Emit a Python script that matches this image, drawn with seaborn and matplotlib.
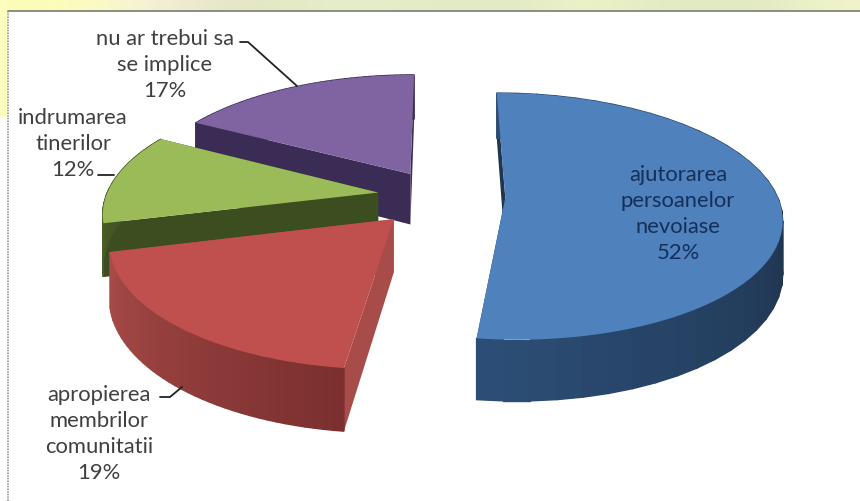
"""
Exploded 3D pie about how young people should get involved, rebuilt on top of ax.pie.
"""
import numpy as np
import matplotlib
matplotlib.use("Agg")
import matplotlib.pyplot as plt
import seaborn as sns
from matplotlib.patches import Polygon, Rectangle
from matplotlib.transforms import Transform

labels = ["ajutorarea\npersoanelor\nnevoiase\n52%", "apropierea\nmembrilor\ncomunitatii\n19%",
          "indrumarea\ntinerilor\n12%", "nu ar trebui sa\nse implice\n17%"]
values = [52, 19, 12, 17]
explode = [0.24, 0.25, 0.23, 0.22]
top_colors = ["#4f81bd", "#c0504d", "#9bbb59", "#8064a2"]
wall_light = ["#2c4d75", "#a84c4a", "#4a5f27", "#3a2c55"]
wall_dark = ["#1f3550", "#7a2f2e", "#3c4d20", "#3a2c55"]
strip_colors = ["#fdfdb8", "#fbfcc0", "#f6f0dc", "#e6e6c8", "#e4e8c4", "#e6eecb", "#e4ecc8",
                "#e2eac6", "#e2eac6", "#eef4c8", "#e4ecc4", "#e2eac4", "#e2eac4", "#f0f4c8"]

# picture geometry, in pixels
CX, CY = 440, 197
RX, RY = 272, 120
PERSP = 0.15
DEPTH = 52


def project(xy, z=0.0):
    xy = np.asarray(xy, dtype=float)
    s = 1 / (1 + PERSP * xy[:, 1])
    return np.column_stack([CX + xy[:, 0] * RX * s, CY - xy[:, 1] * RY * s + z * DEPTH * s])


class PieProjection(Transform):
    input_dims = 2
    output_dims = 2
    is_separable = False

    def transform_non_affine(self, values):
        return project(values)


sns.set_style("white")
plt.rcParams["font.family"] = ["Lato", "DejaVu Sans"]

fig = plt.figure(figsize=(8.6, 5.02), dpi=100)
ax = fig.add_axes([0, 0, 1, 1])

wedges, _ = ax.pie(values, explode=explode, colors=top_colors, startangle=90, counterclock=False)

ax.set_aspect("auto")
ax.set_xlim(0, 860)
ax.set_ylim(502, 0)
ax.axis("off")

# draw back to front so the nearer slices hide the farther walls
order = [3, 2, 1, 0]
for rank, i in enumerate(order):
    w = wedges[i]
    base = 10 + rank * 10
    theta = np.radians(np.linspace(w.theta1, w.theta2, 40))
    arc = np.column_stack([w.center[0] + w.r * np.cos(theta), w.center[1] + w.r * np.sin(theta)])
    apex = np.array([w.center])

    for end in (arc[:1], arc[-1:]):
        edge = np.vstack([apex, end])
        quad = np.vstack([project(edge), project(edge[::-1], 1.0)])
        ax.add_patch(Polygon(quad, closed=True, fc=wall_dark[i] if i != 1 else "#a84c4a",
                             ec="none", zorder=base))

    shades = sns.blend_palette([wall_light[i], wall_dark[i]], len(theta))
    # the shading runs left to right across the front of each slice
    x_order = np.argsort(np.argsort(project(arc)[:, 0]))
    for k in range(len(theta) - 1):
        seg = arc[k:k + 2]
        quad = np.vstack([project(seg), project(seg[::-1], 1.0)])
        ax.add_patch(Polygon(quad, closed=True, fc=shades[x_order[k]], ec=shades[x_order[k]],
                             lw=1.0, zorder=base + 1))

    w.set_transform(PieProjection() + ax.transData)
    w.set_zorder(base + 2)
    w.set_edgecolor("none")

# page around the chart
strip = np.array([matplotlib.colors.to_rgb(c) for c in strip_colors])[None, :, :]
ax.imshow(strip, extent=(0, 860, 11, 0), aspect="auto", interpolation="bicubic", zorder=1)
ax.set_xlim(0, 860)
ax.set_ylim(502, 0)
ax.add_patch(Rectangle((0, 0), 7, 118, fc="#fdfdc0", ec="none", zorder=1))
ax.plot([7.5, 860], [11.5, 11.5], color="#777b6a", lw=1.2, zorder=2)
ax.plot([7.5, 7.5], [11.5, 502], color="#9a9a9a", lw=1.2, ls=(0, (1, 0.6)), zorder=2)

# labels
text_style = dict(ha="center", va="center", fontsize=15.8, linespacing=1.38, color="#404040", zorder=80)
ax.text(165, 65, labels[3], **text_style)
ax.text(73, 144, labels[2], **text_style)
ax.text(99, 434, labels[1], **text_style)
ax.text(678, 214, labels[0], **{**text_style, "color": "#14305a"})

# leader lines
line_style = dict(color="#222222", lw=1.3, zorder=70)
ax.plot([240, 248, 297], [43, 43, 87], **line_style)
ax.plot([98, 114], [176, 176], **line_style)
ax.plot([160, 170, 182], [398, 398, 388], **line_style)

fig.savefig("out.png", dpi=100)
